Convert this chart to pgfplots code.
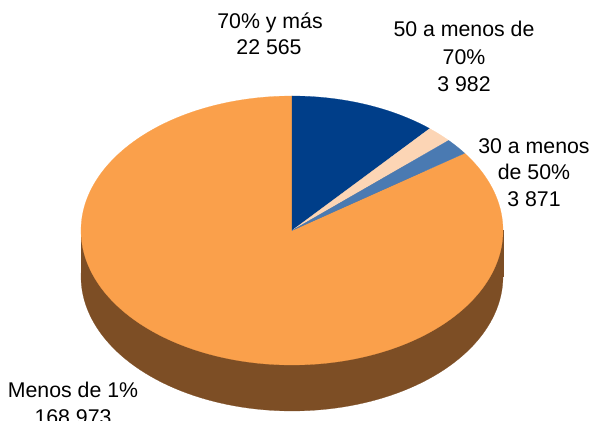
\documentclass[border=0pt]{standalone}
\usepackage{pgfplots}
\usepackage{pgfplotstable}
\pgfplotsset{compat=1.18}
\usepackage{fontspec}
\setmainfont{Liberation Sans}
\definecolor{cOrange}{RGB}{250,160,75}
\definecolor{cBrown}{RGB}{125,78,37}
\definecolor{cDark}{RGB}{0,62,137}
\definecolor{cPeach}{RGB}{252,213,181}
\definecolor{cSteel}{RGB}{74,122,178}
\tikzset{lbl/.style={font=\fontsize{21.3bp}{27bp}\selectfont,anchor=base,inner sep=0pt}}

\pgfplotstableread{
value
22565
3982
3871
168973
}\piedata
\pgfplotstablegetelem{0}{value}\of\piedata \let\va\pgfplotsretval
\pgfplotstablegetelem{1}{value}\of\piedata \let\vb\pgfplotsretval
\pgfplotstablegetelem{2}{value}\of\piedata \let\vc\pgfplotsretval
\pgfplotstablegetelem{3}{value}\of\piedata \let\vd\pgfplotsretval
\pgfkeys{/pgf/fpu=true,/pgf/fpu/output format=fixed}
\pgfmathsetmacro\tot{\va+\vb+\vc+\vd}
\pgfmathsetmacro\aA{90-360*\va/\tot}
\pgfmathsetmacro\aB{\aA-360*\vb/\tot}
\pgfmathsetmacro\aC{\aB-360*\vc/\tot}
\pgfkeys{/pgf/fpu=false}
\def\cx{292}\def\cy{190.5}\def\rx{211}\def\ry{134.5}\def\dep{46}

\begin{document}
\begin{tikzpicture}
\begin{axis}[width=594bp,height=421bp,scale only axis,
  xmin=0,xmax=594,ymin=0,ymax=421,hide axis,clip=false]
% side of the pie
\addplot[fill=cBrown,draw=cBrown,line width=0.2pt,domain=0:360,samples=181] ({\cx+\rx*cos(x)},{\cy-\dep+\ry*sin(x)}) -- cycle;
\addplot[fill=cBrown,draw=cBrown,line width=0.2pt] coordinates {(\cx-\rx,\cy) (\cx+\rx,\cy) (\cx+\rx,\cy-\dep) (\cx-\rx,\cy-\dep)} -- cycle;
% top slices
\addplot[fill=cOrange,draw=cOrange,line width=0.2pt,domain=-270:\aC,samples=241] ({\cx+\rx*cos(x)},{\cy+\ry*sin(x)}) -- (axis cs:\cx,\cy) -- cycle;
\addplot[fill=cDark,draw=cDark,line width=0.2pt,domain=\aA:90,samples=41] ({\cx+\rx*cos(x)},{\cy+\ry*sin(x)}) -- (axis cs:\cx,\cy) -- cycle;
\addplot[fill=cPeach,draw=cPeach,line width=0.2pt,domain=\aB:\aA,samples=11] ({\cx+\rx*cos(x)},{\cy+\ry*sin(x)}) -- (axis cs:\cx,\cy) -- cycle;
\addplot[fill=cSteel,draw=cSteel,line width=0.2pt,domain=\aC:\aB,samples=11] ({\cx+\rx*cos(x)},{\cy+\ry*sin(x)}) -- (axis cs:\cx,\cy) -- cycle;
% labels
\node[lbl] at (axis cs:270,392) {70\% y más};
\node[lbl] at (axis cs:269,366) {22 565};
\node[lbl] at (axis cs:464,384) {50 a menos de};
\node[lbl] at (axis cs:464,356) {70\%};
\node[lbl] at (axis cs:464,329) {3 982};
\node[lbl] at (axis cs:534,267) {30 a menos};
\node[lbl] at (axis cs:534,241) {de 50\%};
\node[lbl] at (axis cs:534,214) {3 871};
\node[lbl] at (axis cs:73,24) {Menos de 1\%};
\node[lbl] at (axis cs:73,-3) {168 973};
\coordinate (BL) at (axis cs:0,0);
\coordinate (TR) at (axis cs:594,421);
\end{axis}
\pgfresetboundingbox
\path[use as bounding box] (BL) rectangle (TR);
\end{tikzpicture}
\end{document}
